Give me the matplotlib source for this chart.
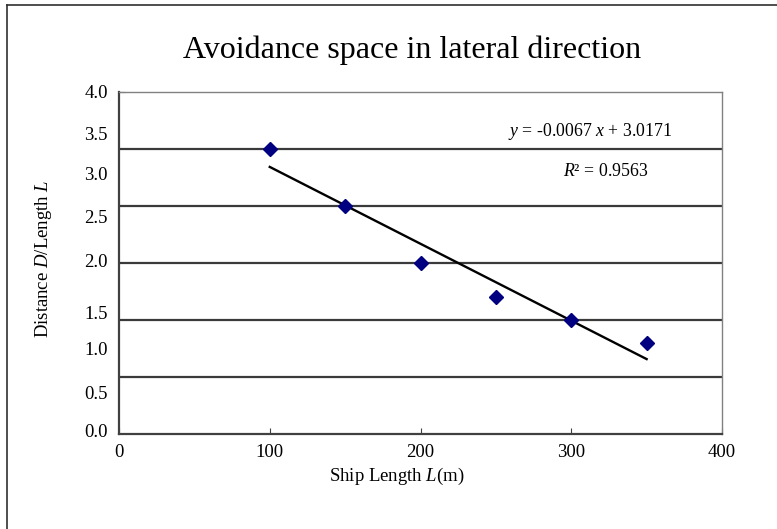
import matplotlib
matplotlib.use('Agg')
import matplotlib.pyplot as plt
import numpy as np
from matplotlib.lines import Line2D

plt.rcParams['font.family'] = 'Liberation Serif'
plt.rcParams['mathtext.fontset'] = 'custom'
plt.rcParams['mathtext.rm'] = 'Liberation Serif'
plt.rcParams['mathtext.it'] = 'Liberation Serif:italic'

# data
ship_length = [100, 150, 200, 250, 300, 350]
ratio = [2.5, 2.0, 1.5, 1.2, 1.0, 0.8]

# y tick labels as printed (they sit off the gridlines in the original)
ylabels = ['0.0', '0.5', '1.0', '1.5', '2.0', '2.5', '3.0', '3.5', '4.0']
ylabel_pos = [0.035, 0.36, 0.754, 1.07, 1.518, 1.912, 2.289, 2.632, 3.0]
xticks = [0, 100, 200, 300, 400]

# linear trend line
slope, inter = np.polyfit(ship_length, ratio, 1)
r2 = np.corrcoef(ship_length, ratio)[0, 1] ** 2
xfit = np.array([ship_length[0], ship_length[-1]])

fig = plt.figure(figsize=(7.77, 5.29), dpi=100)
ax = fig.add_axes([119/777, 1-434/529, 603/777, 342/529])

for g in np.arange(0.5, 3.0, 0.5):
    ax.axhline(g, color='#3a3a3a', lw=1.6, zorder=1)

ax.plot(ship_length, ratio, 'D', color='#000080', markersize=7, zorder=3)
ax.plot(xfit, slope*xfit + inter, color='black', lw=1.7, zorder=2)

ax.set_xlim(0, 400)
ax.set_ylim(0, 3.0)
ax.set_xticks(xticks)
ax.set_xticklabels([str(x) for x in xticks], fontsize=13.5)
ax.tick_params(axis='x', direction='in', length=4, color='#404040', pad=7)

ax.yaxis.remove_overlapping_locs = False
ax.set_yticks([3.0])
ax.set_yticklabels([''])
ax.tick_params(axis='y', which='major', direction='in', length=4, color='#404040')
ax.set_yticks(ylabel_pos, minor=True)
ax.set_yticklabels(ylabels, minor=True, fontsize=13.5)
ax.tick_params(axis='y', which='minor', length=0, pad=8)

for s in ['left', 'bottom']:
    ax.spines[s].set_color('#404040')
    ax.spines[s].set_linewidth(1.6)
for s in ['top', 'right']:
    ax.spines[s].set_color('#808080')
    ax.spines[s].set_linewidth(1.0)

ax.set_xlabel('Ship Length $L$(m)', fontsize=13.5)
ax.xaxis.set_label_coords((397-119)/603, -(466-434)/342)
ax.set_ylabel('Distance $D$/Length $L$', fontsize=13.5)
ax.yaxis.set_label_coords(-(119-54)/603, (434-259)/342)

ax.text((672-119)/603, (434-131)/342, '$y$ = %.4f $x$ + %.4f' % (slope, inter),
        transform=ax.transAxes, ha='right', va='center', fontsize=12.8)
ax.text((648-119)/603, (434-171)/342, '$R$\u00b2 = %.4f' % r2, transform=ax.transAxes,
        ha='right', va='center', fontsize=12.8)

fig.text(412/777, 1-50/529, 'Avoidance space in lateral direction', ha='center', va='center',
         fontsize=23)

# outer chart border (only left and top visible)
fig.add_artist(Line2D([7/777, 7/777], [0, 1-5/529], color='#303030', lw=1.2))
fig.add_artist(Line2D([7/777, 1], [1-5/529, 1-5/529], color='#303030', lw=1.2))

fig.savefig('out.png', dpi=100)
